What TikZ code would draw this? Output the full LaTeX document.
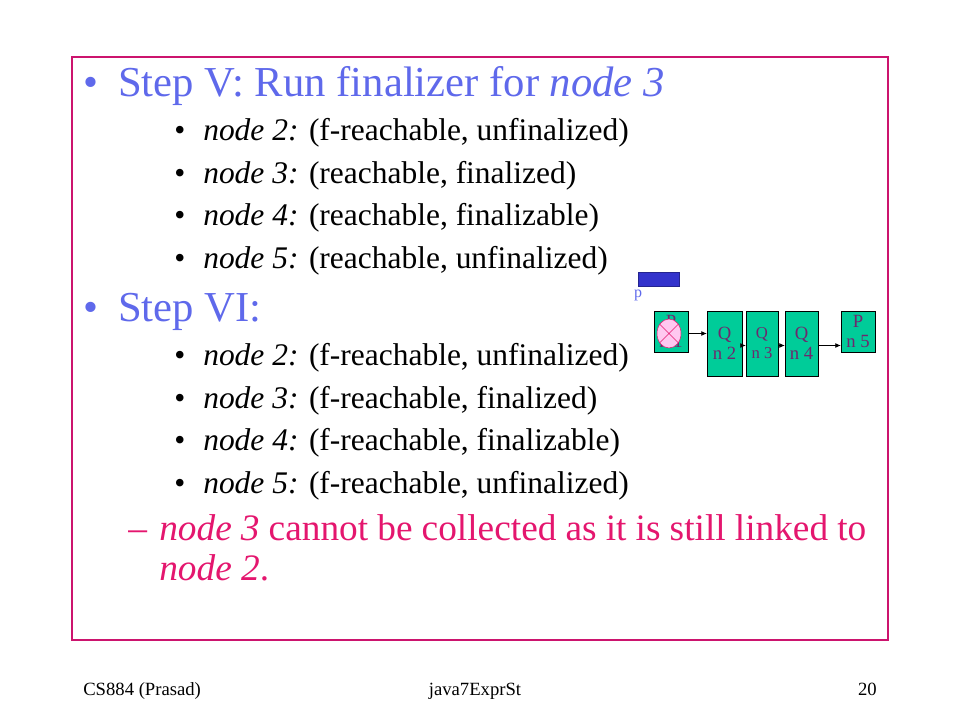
\documentclass[tikz,border=0pt]{standalone}
\usepackage{fontspec}
\setmainfont{Liberation Serif}
\usepackage{xcolor}
\usetikzlibrary{arrows.meta,shapes.geometric}
\definecolor{stepblue}{RGB}{95,105,235}
\definecolor{notered}{RGB}{228,22,110}
\definecolor{framered}{RGB}{204,20,110}
\definecolor{boxgreen}{RGB}{0,204,153}
\definecolor{boxtext}{RGB}{110,40,110}
\definecolor{refblue}{RGB}{51,51,204}
\definecolor{crosspink}{RGB}{255,200,240}
\tikzstyle{mainitem} = [anchor=base west, inner sep=0, text=stepblue, font=\fontsize{32}{38}\selectfont]
\tikzstyle{subitem} = [anchor=base west, inner sep=0, font=\fontsize{23.6}{29}\selectfont]
\tikzstyle{cell} = [draw=black, fill=boxgreen, text=boxtext, align=center, inner sep=0, minimum width=25.5pt, font=\fontsize{14}{15}\selectfont]

\begin{document}
\begin{tikzpicture}[x=0.75pt,y=-0.75pt]
\useasboundingbox (0,0) rectangle (960,720);
\draw[framered, line width=1pt] (72,57) rectangle (888,640);

% Step V
\node[mainitem] (b5) at (83,97) {\textbullet};
\node[mainitem] (s5) at (118,97) {Step V: Run finalizer for \textit{node 3}};
\foreach \y/\n/\txt in {141/2/{(f-reachable, unfinalized)},184/3/{(reachable, finalized)},226/4/{(reachable, finalizable)},269/5/{(reachable, unfinalized)}}
{
	\node[subitem] (c\n) at (174,\y) {\textbullet};
	\node[subitem] (a\n) at (203,\y) {\textit{node \n:} \txt};
}

% Step VI
\node[mainitem] (b6) at (83,321) {\textbullet};
\node[mainitem] (s6) at (118,321) {Step VI:};
\foreach \y/\n/\txt in {365/2/{(f-reachable, unfinalized)},408/3/{(f-reachable, finalized)},450/4/{(f-reachable, finalizable)},493/5/{(f-reachable, unfinalized)}}
{
	\node[subitem] (d\n) at (174,\y) {\textbullet};
	\node[subitem] (e\n) at (203,\y) {\textit{node \n:} \txt};
}

\node[anchor=base west, inner sep=0, text=notered, font=\fontsize{28}{30}\selectfont] (dash) at (128,540) {--};
\node[anchor=base west, inner sep=0, text=notered, font=\fontsize{28}{30}\selectfont] (r1) at (159,540) {\makebox[530.25pt][s]{\textit{node 3} cannot be collected as it is still linked to}};
\node[anchor=base west, inner sep=0, text=notered, font=\fontsize{28}{30}\selectfont] (r2) at (159,580) {\textit{node 2}.};

% list
\node[draw=refblue!70!black, fill=refblue, minimum width=30.75pt, minimum height=10.5pt, inner sep=0] (ref) at (658.5,279) {};
\node[text=stepblue, inner sep=0, font=\fontsize{12}{12}\selectfont] (plab) at (638,295) {p};
\node[cell, minimum height=30.75pt] (n1) at (671,331.5) {P\\n 1};
\node[cell, minimum height=48.75pt, minimum width=26.25pt] (n2) at (724.5,343.5) {Q\\n 2};
\node[cell, minimum height=48.75pt, minimum width=24pt, font=\fontsize{12.5}{15}\selectfont] (n3) at (762,343.5) {Q\\n 3};
\node[cell, minimum height=48.75pt, minimum width=24.75pt] (n4) at (801.5,343.5) {Q\\n 4};
\node[cell, minimum height=30.75pt] (n5) at (858,331.5) {P\\n 5};

\foreach \from/\to in {n1/n2,n2/n3,n3/n4,n4/n5}
{
	\draw[-{Latex[length=4pt,width=3.5pt]}] ([yshift=-1.5pt]\from.east) -- ([yshift=-1.5pt]\from.east -| \to.west);
}

\node[ellipse, draw=notered, fill=crosspink, minimum width=18pt, minimum height=21.75pt, inner sep=0] (x1) at (669,333.5) {};
\draw[notered] (x1.45) -- (x1.225) (x1.135) -- (x1.-45);

% footer
\node[anchor=base west, inner sep=0, font=\fontsize{14}{16}\selectfont] (f1) at (83,695) {CS884 (Prasad)};
\node[anchor=base, inner sep=0, font=\fontsize{14}{16}\selectfont] (f2) at (475,695) {java7ExprSt};
\node[anchor=base east, inner sep=0, font=\fontsize{14}{16}\selectfont] (f3) at (877,695) {20};
\end{tikzpicture}
\end{document}
